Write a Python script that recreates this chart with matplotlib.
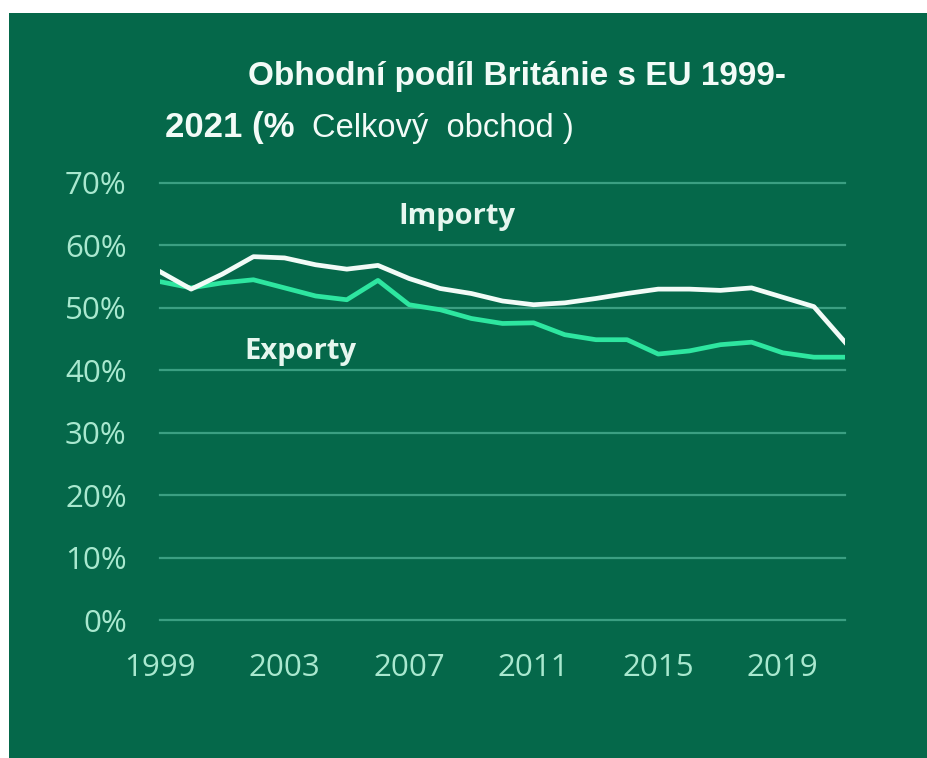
import matplotlib.pyplot as plt
from matplotlib.patches import Rectangle

# data
years = list(range(1999, 2022))
importy = [55.8, 53.0, 55.4, 58.2, 58.0, 56.9, 56.2, 56.8, 54.7, 53.1, 52.3, 51.1,
           50.5, 50.8, 51.5, 52.3, 53.0, 53.0, 52.8, 53.2, 51.7, 50.2, 44.5]
exporty = [54.2, 53.2, 54.0, 54.5, 53.2, 51.9, 51.3, 54.4, 50.5, 49.7, 48.3, 47.5,
           47.6, 45.7, 44.9, 44.9, 42.6, 43.1, 44.1, 44.5, 42.8, 42.1, 42.1]
yticks = [0, 10, 20, 30, 40, 50, 60, 70]
xticks = [1999, 2003, 2007, 2011, 2015, 2019]

bg = "#05684a"
grid_c = "#3b9f82"
tick_c = "#a9e8cf"
exp_c = "#2ee6a0"
imp_c = "#f2fbf7"

W, H = 927, 758
fig = plt.figure(figsize=(W / 100, H / 100), dpi=100)
fig.patch.set_facecolor("white")
fig.patches.append(Rectangle((9 / W, 0), 1, 1 - 13 / H, transform=fig.transFigure,
                             facecolor=bg, edgecolor="none", zorder=-10))

# axes placed so 1999..2021 and 0..70 % land where the reference has them
x0, x1 = 160, 845
y0, y1 = 620, 183
ax = fig.add_axes([x0 / W, 1 - y0 / H, (x1 - x0) / W, (y0 - y1) / H])
ax.set_facecolor("none")
ax.set_xlim(1999, 2021)
ax.set_ylim(0, 70)

for v in yticks:
    ax.axhline(v, color=grid_c, lw=1.6, zorder=1, clip_on=False)

ax.plot(years, importy, color=imp_c, lw=3.4, zorder=3, solid_joinstyle="round")
ax.plot(years, exporty, color=exp_c, lw=3.4, zorder=2, solid_joinstyle="round")

ax.set_yticks(yticks)
ax.set_yticklabels([f"{v}%" for v in yticks])
ax.set_xticks(xticks)
ax.set_xticklabels([str(v) for v in xticks])
ax.tick_params(length=0, colors=tick_c, labelsize=22.5)
ax.tick_params(axis="y", pad=24)
ax.tick_params(axis="x", pad=24)
for lab in ax.get_xticklabels() + ax.get_yticklabels():
    lab.set_family("Open Sans")
for s in ax.spines.values():
    s.set_visible(False)

ax.text(2008.55, 64.6, "Importy", color="#e6f7ef", fontsize=21, fontweight="bold",
        family="Open Sans", ha="center", va="center")
ax.text(2003.5, 43.0, "Exporty", color="#e6f7ef", fontsize=21, fontweight="bold",
        family="Open Sans", ha="center", va="center")

# title, two lines, second line mixes bold and regular
fig.text(248 / W, 1 - 77 / H, "Obhodní podíl Británie s EU 1999-", color="#f2fbf7",
         fontsize=24, fontweight="bold", family="Liberation Sans", ha="left", va="center")
fig.text(165 / W, 1 - 127 / H, "2021 (%", color="#f2fbf7",
         fontsize=25, fontweight="bold", family="Liberation Sans", ha="left", va="center")
fig.text(312 / W, 1 - 129 / H, "Celkový  obchod )", color="#f2fbf7",
         fontsize=23.5, family="Liberation Sans", ha="left", va="center")

fig.savefig("out.png", dpi=100, facecolor=fig.get_facecolor())
